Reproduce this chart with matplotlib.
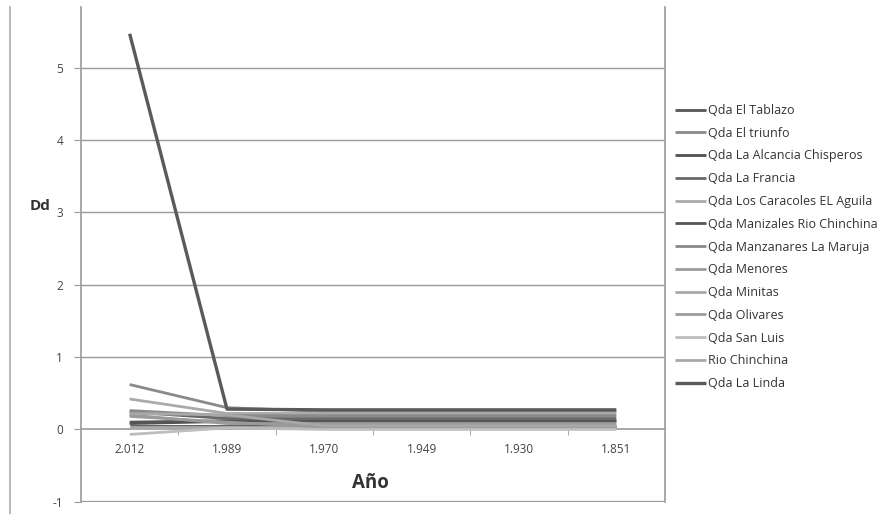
import matplotlib
matplotlib.use("Agg")
import matplotlib.pyplot as plt
from matplotlib.lines import Line2D

years = ["2.012", "1.989", "1.970", "1.949", "1.930", "1.851"]

series_names = [
    "Qda El Tablazo", "Qda El triunfo", "Qda La Alcancia Chisperos", "Qda La Francia",
    "Qda Los Caracoles EL Aguila", "Qda Manizales Rio Chinchina", "Qda Manzanares La Maruja",
    "Qda Menores", "Qda Minitas", "Qda Olivares", "Qda San Luis", "Rio Chinchina", "Qda La Linda",
]

el_tablazo = [0.10, 0.12, 0.12, 0.12, 0.12, 0.12]
el_triunfo = [0.62, 0.30, 0.25, 0.25, 0.25, 0.25]
la_alcancia = [0.05, 0.05, 0.05, 0.05, 0.05, 0.05]
la_francia = [0.24, 0.15, 0.15, 0.15, 0.15, 0.15]
los_caracoles = [0.42, 0.22, 0.22, 0.22, 0.22, 0.22]
manizales = [0.08, 0.11, 0.11, 0.11, 0.11, 0.11]
manzanares = [0.26, 0.19, 0.19, 0.19, 0.19, 0.19]
menores = [0.20, 0.08, 0.08, 0.08, 0.08, 0.08]
minitas = [0.03, 0.03, 0.03, 0.03, 0.03, 0.03]
olivares = [0.18, 0.10, 0.03, 0.03, 0.03, 0.03]
san_luis = [-0.07, 0.02, 0.00, 0.00, 0.00, 0.00]
rio_chinchina = [0.22, 0.20, 0.05, 0.05, 0.05, 0.05]
la_linda = [5.47, 0.28, 0.27, 0.27, 0.27, 0.27]

values = [el_tablazo, el_triunfo, la_alcancia, la_francia, los_caracoles, manizales,
          manzanares, menores, minitas, olivares, san_luis, rio_chinchina, la_linda]
colors = ["#555555", "#8a8a8a", "#505050", "#686868", "#aaaaaa", "#555555",
          "#8a8a8a", "#9a9a9a", "#a8a8a8", "#9a9a9a", "#bdbdbd", "#a8a8a8", "#5a5a5a"]
widths = [2.0, 2.0, 2.0, 2.0, 2.0, 2.0, 2.0, 2.0, 2.0, 2.0, 2.0, 2.0, 2.4]

plt.rcParams['font.family'] = ['Open Sans', 'DejaVu Sans']

W, H = 888, 514
fig = plt.figure(figsize=(W / 100, H / 100), dpi=100)
left, right, top, bottom = 81, 665, 7, 501.7
ax = fig.add_axes([left / W, 1 - bottom / H, (right - left) / W, (bottom - top) / H])

x = list(range(len(years)))
for name, vals, c, lw in zip(series_names, values, colors, widths):
    ax.plot(x, vals, color=c, lw=lw, label=name, solid_capstyle='butt', zorder=3)

ax.set_xlim(-0.5, 5.5)
ax.set_ylim(-1, 5.84)

gc = "#9a9a9a"
for yv in [1, 2, 3, 4, 5]:
    ax.axhline(yv, color=gc, lw=1.0, zorder=1)

ax.spines['top'].set_visible(False)
ax.spines['bottom'].set_position(('data', 0))
for s in ['left', 'right', 'bottom']:
    ax.spines[s].set_color(gc)
    ax.spines[s].set_linewidth(1.2)
ax.axhline(-1, color=gc, lw=1.6, zorder=1)

ax.set_yticks([-1, 0, 1, 2, 3, 4, 5])
ax.set_yticklabels(["-1", "0", "1", "2", "3", "4", "5"])
ax.tick_params(axis='y', length=5, color=gc, labelsize=8.5, labelcolor="#444444", pad=8)

ax.set_xticks(x)
ax.set_xticklabels(years)
ax.tick_params(axis='x', which='major', length=0, labelsize=8.5, labelcolor="#444444", pad=10)
ax.set_xticks([0.5, 1.5, 2.5, 3.5, 4.5], minor=True)
ax.tick_params(axis='x', which='minor', length=4, color=gc, direction='out')

fig.text(40 / W, 1 - 206 / H, "Dd", fontsize=11, fontweight='bold', color="#333333",
         ha='center', va='center')
fig.text(370 / W, 1 - 483 / H, "Año", fontsize=13.5, fontweight='bold', color="#333333",
         ha='center', va='center')

# outer chart frame line on the left
fig.add_artist(Line2D([9.5 / W, 9.5 / W], [0, 1 - 7 / H], color="#aaaaaa", lw=1.2,
                      transform=fig.transFigure))

handles, labels = ax.get_legend_handles_labels()
leg = fig.legend(handles, labels, loc='upper left', bbox_to_anchor=(675 / W, 1 - 104 / H),
                 frameon=False, fontsize=9, labelspacing=0.78, handlelength=2.5,
                 handletextpad=0.15, borderaxespad=0, borderpad=0)
for t in leg.get_texts():
    t.set_color("#333333")

fig.savefig("out.png", dpi=100)
